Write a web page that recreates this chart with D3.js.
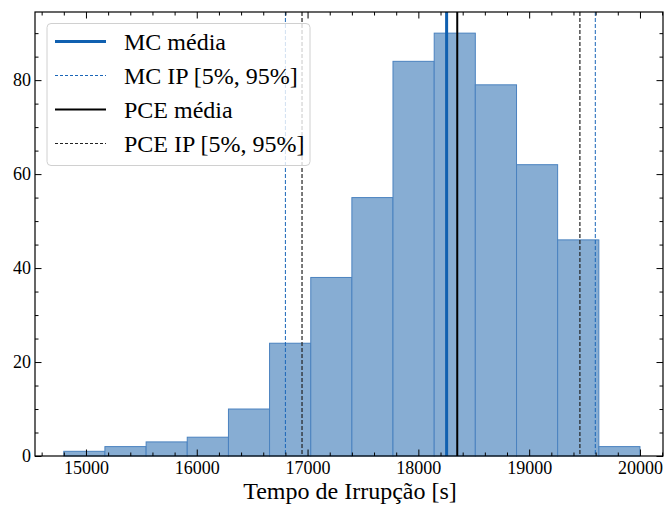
<!DOCTYPE html>
<html>
<head>
<meta charset="utf-8">
<script src="https://cdn.jsdelivr.net/npm/d3@7"></script>
<style>
  html, body { margin: 0; padding: 0; background: #fff; }
  svg { display: block; }
  svg text { font-family: "Liberation Serif", "Times New Roman", serif !important; }
</style>
</head>
<body>
<svg id="chart" width="664" height="505"></svg>
<script>
// Histogram bin edges and counts
const binEdges = [14800, 15171, 15543, 15914, 16286, 16657, 17029, 17400, 17771, 18143, 18514, 18886, 19257, 19629, 20000];
const counts = [1, 2, 3, 4, 10, 24, 38, 55, 84, 90, 79, 62, 46, 2];

// Reference lines: means and 5%/95% intervals
const mcMean = 18255;
const mcInterval = [16800, 19597];
const pceMean = 18351;
const pceInterval = [16950, 19458];

const xTicks = [15000, 16000, 17000, 18000, 19000, 20000];
const yTicks = [0, 20, 40, 60, 80];
const legendLabels = ["MC média", "MC IP [5%, 95%]", "PCE média", "PCE IP [5%, 95%]"];

const FONT = "Liberation Serif";
const svg = d3.select("#chart");
const plotL = 35, plotR = 663, plotT = 12, plotB = 456;

const x = d3.scaleLinear().domain([14540, 20208]).range([plotL, plotR]);
const y = d3.scaleLinear().domain([0, 94.5]).range([plotB, plotT]);

const bins = counts.map((c, i) => ({ x0: binEdges[i], x1: binEdges[i + 1], c }));

// Bars
svg.append("g").selectAll("rect").data(bins).join("rect")
  .attr("x", d => x(d.x0))
  .attr("y", d => y(d.c))
  .attr("width", d => x(d.x1) - x(d.x0))
  .attr("height", d => y(0) - y(d.c))
  .attr("fill", "#87add3")
  .attr("stroke", "#4a82bf")
  .attr("stroke-width", 1);

// Vertical reference lines
const vlines = [
  { v: mcInterval[0], color: "#1a66b8", w: 1, dash: "4,2" },
  { v: mcInterval[1], color: "#1a66b8", w: 1, dash: "4,2" },
  { v: pceInterval[0], color: "#222", w: 1.2, dash: "4,2" },
  { v: pceInterval[1], color: "#222", w: 1.2, dash: "4,2" },
  { v: mcMean, color: "#1060b0", w: 3, dash: null },
  { v: pceMean, color: "#000", w: 2, dash: null }
];
svg.append("g").selectAll("line").data(vlines).join("line")
  .attr("x1", d => x(d.v)).attr("x2", d => x(d.v))
  .attr("y1", plotT).attr("y2", plotB)
  .attr("stroke", d => d.color)
  .attr("stroke-width", d => d.w)
  .attr("stroke-dasharray", d => d.dash);

// Axes with inward ticks on all four sides
const xMinor = d3.range(14600, 20201, 200).filter(v => v % 1000 !== 0);
const yMinor = d3.range(0, 95, 5).filter(v => v % 20 !== 0);
const MAJ = -6.5, MIN = -3.5;

function tickAxis(gen, transform) {
  const g = svg.append("g").attr("transform", transform).call(gen);
  g.attr("font-family", FONT).attr("font-size", 18);
  g.select(".domain").remove();
  g.selectAll(".tick line").attr("stroke", "#000").attr("stroke-width", 1);
  g.selectAll(".tick text").attr("fill", "#000").style("font-family", FONT).style("font-size", "18px");
  return g;
}

tickAxis(d3.axisBottom(x).tickValues(xTicks).tickSize(MAJ).tickPadding(5.5).tickFormat(d3.format("d")), `translate(0,${plotB})`);
tickAxis(d3.axisBottom(x).tickValues(xMinor).tickSize(MIN).tickFormat(""), `translate(0,${plotB})`);
tickAxis(d3.axisTop(x).tickValues(xTicks).tickSize(MAJ).tickFormat(""), `translate(0,${plotT})`);
tickAxis(d3.axisTop(x).tickValues(xMinor).tickSize(MIN).tickFormat(""), `translate(0,${plotT})`);

tickAxis(d3.axisLeft(y).tickValues(yTicks).tickSize(MAJ).tickPadding(4).tickFormat(d3.format("d")), `translate(${plotL},0)`);
tickAxis(d3.axisLeft(y).tickValues(yMinor).tickSize(MIN).tickFormat(""), `translate(${plotL},0)`);
tickAxis(d3.axisRight(y).tickValues(yTicks).tickSize(MAJ).tickFormat(""), `translate(${plotR},0)`);
tickAxis(d3.axisRight(y).tickValues(yMinor).tickSize(MIN).tickFormat(""), `translate(${plotR},0)`);

// Frame
svg.append("rect")
  .attr("x", plotL).attr("y", plotT)
  .attr("width", plotR - plotL).attr("height", plotB - plotT)
  .attr("fill", "none").attr("stroke", "#000").attr("stroke-width", 1.2);

// Axis label
svg.append("text")
  .attr("x", 350).attr("y", 499)
  .attr("text-anchor", "middle").attr("font-size", 24).attr("fill", "#000")
  .text("Tempo de Irrupção [s]");

// Legend
const legendStyles = [
  { color: "#1060b0", w: 3, dash: null },
  { color: "#1a66b8", w: 1.2, dash: "3,2" },
  { color: "#000", w: 2, dash: null },
  { color: "#222", w: 1.1, dash: "3,2" }
];
const lg = svg.append("g");
lg.append("rect")
  .attr("x", 47).attr("y", 23.5).attr("width", 263).attr("height", 142)
  .attr("rx", 4).attr("fill", "rgba(255,255,255,0.8)")
  .attr("stroke", "#d0d0d0").attr("stroke-width", 1);
const rows = lg.selectAll("g.row").data(legendLabels).join("g")
  .attr("class", "row")
  .attr("transform", (d, i) => `translate(0,${41.5 + i * 34})`);
rows.append("line")
  .attr("x1", 55).attr("x2", 106).attr("y1", 0).attr("y2", 0)
  .attr("stroke", (d, i) => legendStyles[i].color)
  .attr("stroke-width", (d, i) => legendStyles[i].w)
  .attr("stroke-dasharray", (d, i) => legendStyles[i].dash);
rows.append("text")
  .attr("x", 124).attr("y", 0).attr("dy", "0.35em")
  .attr("font-size", 24).attr("fill", "#000")
  .text(d => d);
</script>
</body>
</html>
